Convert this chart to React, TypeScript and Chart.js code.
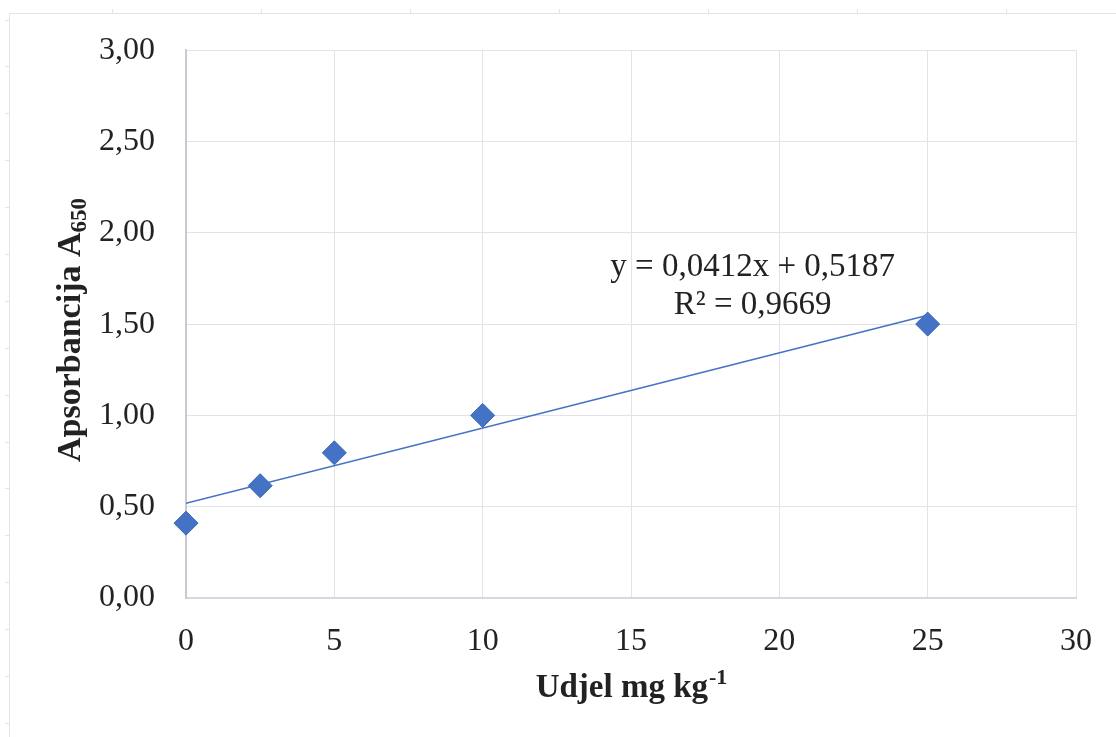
import React, { useEffect, useRef } from "react";
import { Chart, registerables } from "chart.js";

Chart.register(...registerables);

const udjel = [0, 2.5, 5, 10, 25];
const apsorbancija = [0.41, 0.615, 0.795, 1.0, 1.5];
const trendSlope = 0.0412;
const trendIntercept = 0.5187;
const trendRange = [0, 25];
const equationText = "y = 0,0412x + 0,5187";
const r2Label = "R² = 0,9669";
const yTitleMain = "Apsorbancija A";
const yTitleSub = "650";
const xTitleMain = "Udjel mg kg";
const xTitleSup = "-1";

const SERIF = "'Liberation Serif', 'Times New Roman', serif";
const BLUE = "#4472C4";

const decorPlugin = {
  id: "decor",
  beforeDraw(chart: any) {
    const ctx = chart.ctx;
    ctx.save();
    ctx.fillStyle = "#ffffff";
    ctx.fillRect(0, 0, chart.width, chart.height);
    // outer sheet frame (top + left) with cell marks
    ctx.strokeStyle = "#e1e4ea";
    ctx.lineWidth = 1;
    ctx.beginPath();
    ctx.moveTo(9.5, 13.5);
    ctx.lineTo(chart.width, 13.5);
    ctx.moveTo(9.5, 13.5);
    ctx.lineTo(9.5, chart.height);
    for (let x = 112.5; x < chart.width; x += 149) {
      ctx.moveTo(x, 9);
      ctx.lineTo(x, 13.5);
    }
    for (let y = 19.5; y < chart.height; y += 46.9) {
      ctx.moveTo(5, Math.round(y) + 0.5);
      ctx.lineTo(9.5, Math.round(y) + 0.5);
    }
    ctx.stroke();
    ctx.restore();
  },
  afterDraw(chart: any) {
    const ctx = chart.ctx;
    const xs = chart.scales.x;
    const ys = chart.scales.y;
    ctx.save();
    ctx.fillStyle = "#222222";
    // equation label
    ctx.font = `33px ${SERIF}`;
    ctx.textAlign = "center";
    ctx.textBaseline = "middle";
    const lx = xs.getPixelForValue(19.1);
    ctx.fillText(equationText, lx, ys.getPixelForValue(1.81));
    ctx.fillText(r2Label, lx, ys.getPixelForValue(1.605));

    // x title
    ctx.textAlign = "left";
    ctx.textBaseline = "alphabetic";
    const mainFont = `bold 33px ${SERIF}`;
    const smallFont = `bold 22px ${SERIF}`;
    ctx.font = mainFont;
    const wMain = ctx.measureText(xTitleMain).width;
    ctx.font = smallFont;
    const wSup = ctx.measureText(xTitleSup).width;
    const xStart = (chart.chartArea.left + chart.chartArea.right) / 2 - (wMain + wSup) / 2;
    ctx.font = mainFont;
    ctx.fillText(xTitleMain, xStart, 697);
    ctx.font = smallFont;
    ctx.fillText(xTitleSup, xStart + wMain + 1, 684);

    // y title
    ctx.translate(80, 330);
    ctx.rotate(-Math.PI / 2);
    const yMainFont = `bold 34px ${SERIF}`;
    const ySmallFont = `bold 23px ${SERIF}`;
    ctx.font = yMainFont;
    const wyMain = ctx.measureText(yTitleMain).width;
    ctx.font = ySmallFont;
    const wySub = ctx.measureText(yTitleSub).width;
    const yStart = -(wyMain + wySub) / 2;
    ctx.font = yMainFont;
    ctx.fillText(yTitleMain, yStart, 0);
    ctx.font = ySmallFont;
    ctx.fillText(yTitleSub, yStart + wyMain, 6);
    ctx.restore();
  },
};

export default function App() {
  const ref = useRef<HTMLCanvasElement | null>(null);
  useEffect(() => {
    if (!ref.current) return;
    const points = udjel.map((x, i) => ({ x, y: apsorbancija[i] }));
    const trend = trendRange.map((x) => ({ x, y: trendSlope * x + trendIntercept }));
    const chart = new Chart(ref.current, {
      type: "scatter",
      data: {
        datasets: [
          {
            type: "scatter",
            data: points,
            pointStyle: "rectRot",
            pointRadius: 12,
            pointHoverRadius: 12,
            backgroundColor: BLUE,
            borderColor: "#3b66b5",
            borderWidth: 1,
            clip: false,
            order: 0,
          } as any,
          {
            type: "line",
            data: trend,
            borderColor: BLUE,
            borderWidth: 1.6,
            pointRadius: 0,
            fill: false,
            order: 1,
          } as any,
        ],
      },
      options: {
        animation: false,
        responsive: false,
        devicePixelRatio: 1,
        layout: { padding: { top: 47, right: 40, left: 0, bottom: 0 } },
        plugins: { legend: { display: false }, tooltip: { enabled: false }, title: { display: false } },
        scales: {
          x: {
            type: "linear",
            min: 0,
            max: 30,
            afterFit: (s: any) => {
              s.height = 139;
            },
            ticks: {
              stepSize: 5,
              padding: 24,
              color: "#222222",
              font: { family: SERIF, size: 32 },
            },
            grid: { color: "#e0e3e9", drawTicks: false, lineWidth: 1 },
            border: { color: "#d5dae2", width: 2 },
          },
          y: {
            type: "linear",
            min: 0,
            max: 3,
            afterFit: (s: any) => {
              s.width = 186;
            },
            ticks: {
              stepSize: 0.5,
              padding: 31,
              color: "#222222",
              font: { family: SERIF, size: 32 },
              callback: (v: any) => Number(v).toFixed(2).replace(".", ","),
            },
            grid: { color: "#e0e3e9", drawTicks: false, lineWidth: 1 },
            border: { color: "#c4cbd7", width: 2 },
          },
        },
      },
      plugins: [decorPlugin],
    });
    return () => chart.destroy();
  }, []);
  return (
    <div style={{ position: "fixed", left: 0, top: 0, width: 1116, height: 737, background: "#fff" }}>
      <canvas ref={ref} width={1116} height={737} style={{ display: "block" }} />
    </div>
  );
}
